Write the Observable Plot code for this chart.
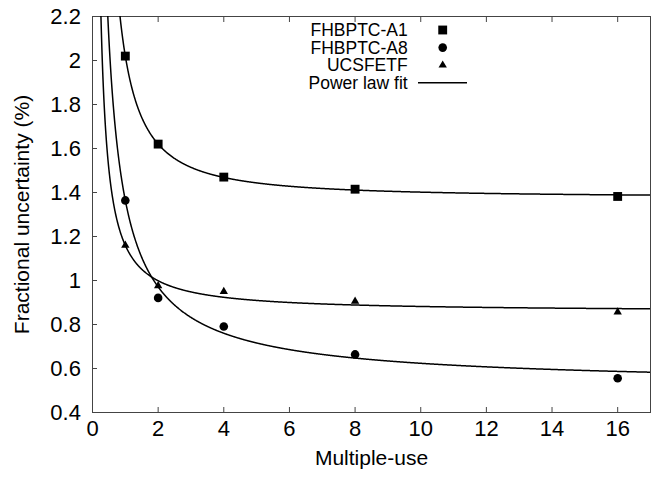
<!DOCTYPE html>
<html><head><meta charset="utf-8">
<script src="https://cdn.jsdelivr.net/npm/d3@7"></script>
<script src="https://cdn.jsdelivr.net/npm/@observablehq/plot@0.6"></script>
<style>
body{margin:0;background:#fff;}
#chart svg{font-family:"Liberation Sans",Arial,Helvetica,sans-serif;background:#fff;}
</style>
</head><body><div id="chart"></div>
<script>
// ---- data ----
const uses = [1, 2, 4, 8, 16];
const seriesNames = ["FHBPTC-A1", "FHBPTC-A8", "UCSFETF"];
const seriesSymbols = ["square", "circle", "triangle"];
const seriesR = [5, 4.3, 3.1];
const valuesA1 = [2.02, 1.62, 1.47, 1.415, 1.382];
const valuesA8 = [1.364, 0.921, 0.791, 0.664, 0.556];
const valuesUCSF = [1.16, 0.976, 0.95, 0.905, 0.856];
// power law fit: y = c + a * x^(-b)
const fitA = [0.644, 0.847, 0.3016];
const fitB = [1.40, 0.90, 1.10];
const fitC = [1.376, 0.517, 0.858];
const fitLabel = "Power law fit";
const xTicks = [0, 2, 4, 6, 8, 10, 12, 14, 16];
const yTicks = [0.4, 0.6, 0.8, 1.0, 1.2, 1.4, 1.6, 1.8, 2.0, 2.2];
const yTickLabels = ["0.4", "0.6", "0.8", "1", "1.2", "1.4", "1.6", "1.8", "2", "2.2"];
const xTitle = "Multiple-use";
const yTitle = "Fractional uncertainty (%)";

// ---- build tables ----
const seriesValues = [valuesA1, valuesA8, valuesUCSF];
const points = [];
seriesValues.forEach((vals, s) => vals.forEach((v, i) => points.push({series: s, x: uses[i], y: v})));
const curveX = d3.range(0.15, 17.001, 0.01);
const curves = [];
fitA.forEach((a, s) => curveX.forEach(x => curves.push({series: s, x, y: fitC[s] + a * Math.pow(x, -fitB[s])})));

const fs = 21, tfs = 22;
const marks = [
  Plot.frame({stroke: "#444", strokeWidth: 1}),
  Plot.line(curves, {x: "x", y: "y", z: "series", stroke: "#000", strokeWidth: 1.5, clip: true}),
  ...seriesNames.map((n, s) => Plot.dot(points.filter(p => p.series === s), {x: "x", y: "y", symbol: () => seriesSymbols[s], r: seriesR[s], fill: "#000", stroke: "none"})),
  Plot.axisX({anchor: "bottom", ticks: xTicks, tickSize: -5, tickPadding: 12.5, fontSize: tfs, label: null, stroke: "#444", color: "#000"}),
  Plot.axisX({anchor: "top", ticks: xTicks, tickSize: -5, tickFormat: () => "", label: null, stroke: "#444"}),
  Plot.axisY({anchor: "left", ticks: yTicks, tickSize: -5, tickPadding: 16.6, tickFormat: (d) => yTickLabels[yTicks.findIndex(t => Math.abs(t - d) < 1e-9)], fontSize: tfs, label: null, stroke: "#444"}),
  Plot.text([xTitle], {frameAnchor: "bottom", dy: 46, text: d => d, fontSize: fs, textAnchor: "middle", lineAnchor: "middle", fill: "#000"}),
  Plot.text([yTitle], {frameAnchor: "left", dx: -70, rotate: -90, text: d => d, fontSize: fs, textAnchor: "middle", lineAnchor: "middle", fill: "#000"})
];

const chart = Plot.plot({
  width: 660, height: 479,
  marginLeft: 92, marginRight: 10, marginTop: 16, marginBottom: 67,
  x: {domain: [0, 17]},
  y: {domain: [0.4, 2.2]},
  symbol: {domain: seriesSymbols, range: seriesSymbols},
  marks
});
document.getElementById("chart").appendChild(chart);

// ---- legend (inside the plot, top) ----
const svg = d3.select(chart);
const lg = svg.append("g").attr("font-size", 17.5).attr("fill", "#000");
const rowY = [30, 47.6, 65.2, 82.8];
const textRight = 407.7, symX = 442.7;
const symMap = {square: d3.symbolSquare, circle: d3.symbolCircle, triangle: d3.symbolTriangle};
seriesNames.forEach((n, s) => {
  lg.append("text").attr("x", textRight).attr("y", rowY[s]).attr("dy", "0.35em").attr("text-anchor", "end").text(n);
  lg.append("path").attr("transform", `translate(${symX},${rowY[s]})`)
    .attr("d", d3.symbol(symMap[seriesSymbols[s]], Math.PI * seriesR[s] * seriesR[s])());
});
lg.append("text").attr("x", textRight).attr("y", rowY[3]).attr("dy", "0.35em").attr("text-anchor", "end").text(fitLabel);
lg.append("line").attr("x1", 418).attr("x2", 467).attr("y1", rowY[3]).attr("y2", rowY[3]).attr("stroke", "#000").attr("stroke-width", 1.5);
</script>
</body></html>
